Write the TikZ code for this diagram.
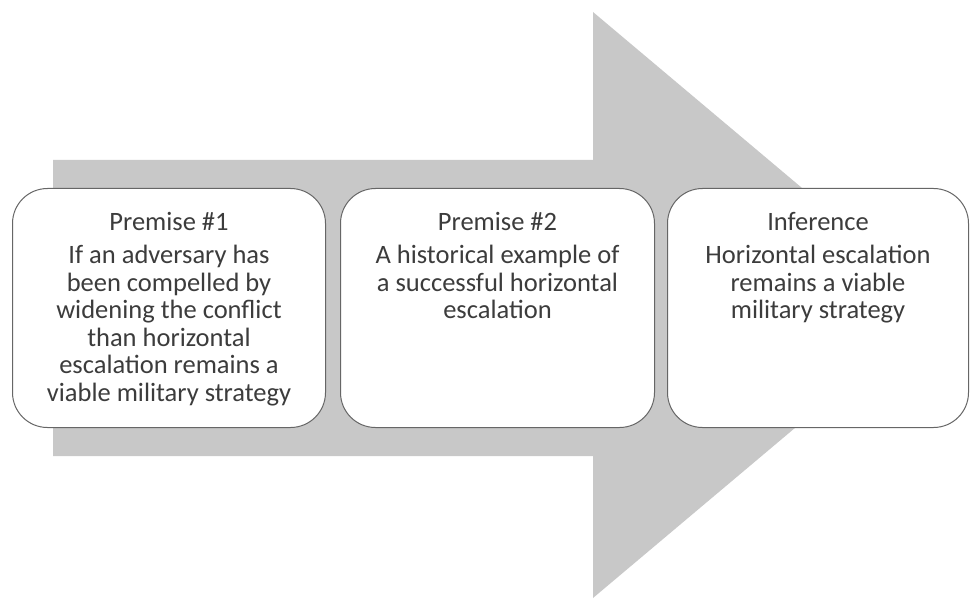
\documentclass[tikz,border=0pt]{standalone}
\usepackage{fontspec}
\setmainfont{Carlito}
\usetikzlibrary{positioning}

\definecolor{arrowgray}{HTML}{C8C8C8}
\definecolor{edgegray}{HTML}{666666}
\definecolor{inkgray}{HTML}{3C3C3C}

\begin{document}
\begin{tikzpicture}[x=1pt,y=-1pt]
        \tikzset{
            stage/.style= {
                draw=edgegray,
                line width=1pt,
                fill=white,
                shape=rectangle,
                rounded corners=35pt,
                anchor=north west,
                minimum height=239pt
            },
            stagetext/.style= {
                align=center,
                inner sep=0pt,
                text=inkgray,
                font=\fontsize{26.5}{27.5}\selectfont
            },
        }
\useasboundingbox (0,0) rectangle (970,599);
%% the big arrow behind
\fill[arrowgray] (53,160) -- (593,160) -- (593,12) -- (941,305)
    -- (593,598) -- (593,456) -- (53,456) -- cycle;
%% boxes
        \node [stage, minimum width=313pt] (premone) at (12,188) {};
        \node [stage, minimum width=314pt] (premtwo) at (340,188) {};
        \node [stage, minimum width=301pt] (infer) at (667,188) {};
%% texts
        \node [stagetext, below=24pt of premone.north] (premone_t)
            {Premise \#1\\[6pt]If an adversary has\\been compelled by\\widening the conflict\\than horizontal\\escalation remains a\\viable military strategy};
        \node [stagetext, below=24pt of premtwo.north] (premtwo_t)
            {Premise \#2\\[6pt]A historical example of\\a successful horizontal\\escalation};
        \node [stagetext, below=24pt of infer.north] (infer_t)
            {Inference\\[6pt]Horizontal escalation\\remains a viable\\military strategy};
\end{tikzpicture}
\end{document}
